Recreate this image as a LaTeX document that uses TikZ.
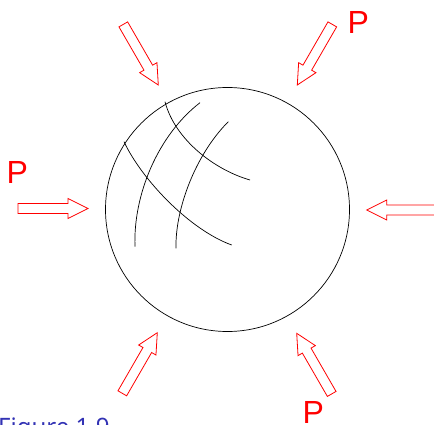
\documentclass[tikz,border=0pt]{standalone}
\usepackage{fontspec}
\setmainfont{Liberation Sans}
\newfontfamily\capfont{Noto Sans}
\definecolor{capblue}{RGB}{50,50,180}
\begin{document}
\begin{tikzpicture}[x=1pt,y=-1pt,
  arrowline/.style={draw=red, line width=0.8pt, line join=miter},
  pressarrow/.pic={\path[arrowline] (0,0) -- (-20,10) -- (-20,5) -- (-70,5) -- (-70,-5) -- (-20,-5) -- (-20,-10) -- cycle;},
  loadlabel/.style={text=red, anchor=base west, inner sep=0pt, font=\fontsize{32}{32}\selectfont},
  meridian/.style={draw=black, line width=0.7pt},
  caption/.style={text=capblue, anchor=base west, inner sep=0pt, font=\capfont\fontsize{24}{24}\selectfont}]
\useasboundingbox (0,0) rectangle (434,425);
% sphere
\node[circle, draw=black, line width=0.7pt, minimum size=244pt, inner sep=0pt] (sphere) at (227.5,209.5) {};
% meridians / grid lines
\draw[meridian] (165,101.7) .. controls (175,140) and (215,170) .. (250,180);
\draw[meridian] (124,141.7) .. controls (142,180) and (190,230) .. (231.7,245);
\draw[meridian] (200,102.7) .. controls (158,135) and (133,195) .. (135,246.7);
\draw[meridian] (228.3,121.7) .. controls (195,155) and (175,210) .. (176,248.3);
% load arrows
\pic at (88,208.5) {pressarrow};
\pic[rotate=180] at (366.7,210) {pressarrow};
\pic[rotate=-60] at (158.3,85) {pressarrow};
\pic[rotate=-120] at (297.3,85) {pressarrow};
\pic[rotate=120] at (296.7,333.3) {pressarrow};
\pic[rotate=60] at (157.3,332.7) {pressarrow};
% labels
\node[loadlabel] (pleft) at (6.5,183) {P};
\node[loadlabel] (ptop) at (347.5,33.3) {P};
\node[loadlabel] (pbottom) at (302.5,423.3) {P};
\node[caption] (cap) at (-2,435) {Figure 1.9};
\end{tikzpicture}
\end{document}
